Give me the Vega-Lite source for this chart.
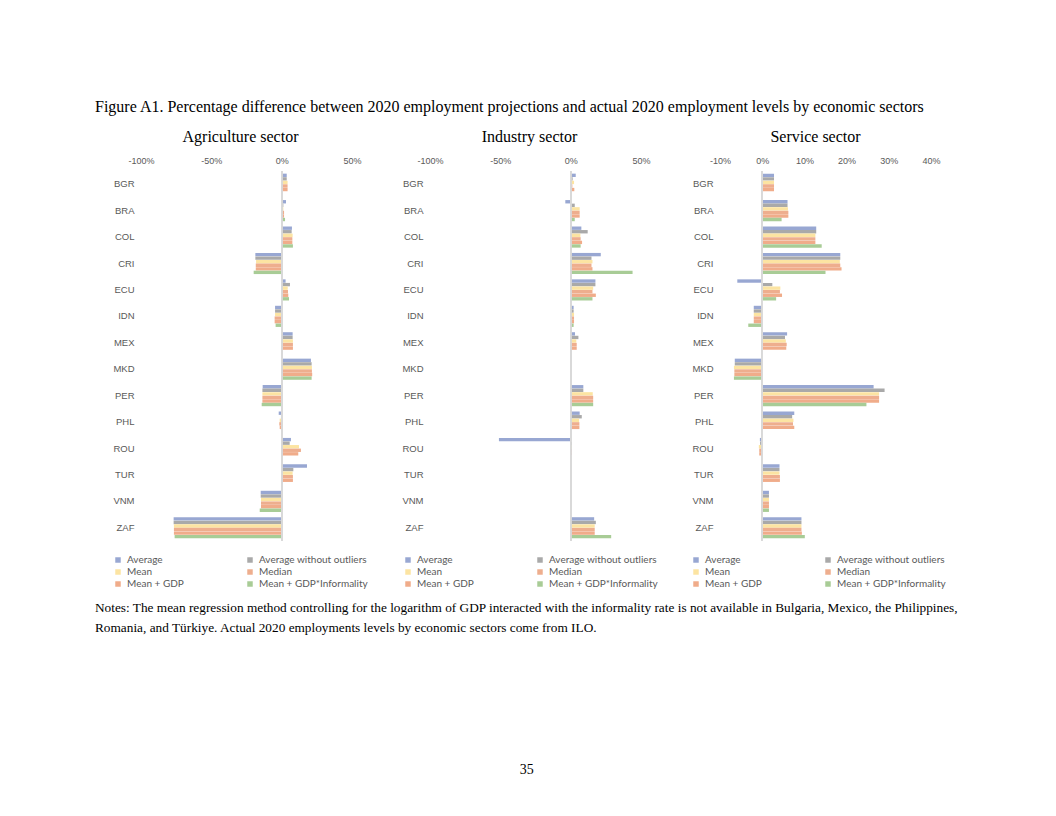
{
  "$schema": "https://vega.github.io/schema/vega-lite/v6.json",
  "background": "white",
  "padding": {"left": 95, "top": 99, "right": 0, "bottom": 0},
  "datasets": {
    "series": [
      {"k": "avg", "name": "Average"},
      {"k": "awo", "name": "Average without outliers"},
      {"k": "mean", "name": "Mean"},
      {"k": "median", "name": "Median"},
      {"k": "gdp", "name": "Mean + GDP"},
      {"k": "inf", "name": "Mean + GDP*Informality"}
    ],
    "d": [
      {"s": "A", "c": "BGR", "avg": 3.6, "awo": 3.6, "mean": 4.2, "median": 4.2, "gdp": 4.2, "inf": null},
      {"s": "A", "c": "BRA", "avg": 3.1, "awo": 1.2, "mean": 1.2, "median": 1.7, "gdp": 1.7, "inf": 2.4},
      {"s": "A", "c": "COL", "avg": 7.3, "awo": 7.1, "mean": 7.8, "median": 7.6, "gdp": 7.6, "inf": 8.0},
      {"s": "A", "c": "CRI", "avg": -18.7, "awo": -18.7, "mean": -18.2, "median": -18.4, "gdp": -18.4, "inf": -19.9},
      {"s": "A", "c": "ECU", "avg": 2.8, "awo": 5.9, "mean": 4.3, "median": 4.5, "gdp": 4.7, "inf": 5.2},
      {"s": "A", "c": "IDN", "avg": -4.7, "awo": -4.7, "mean": -4.7, "median": -5.0, "gdp": -5.0, "inf": -4.3},
      {"s": "A", "c": "MEX", "avg": 7.8, "awo": 7.8, "mean": 8.0, "median": 8.0, "gdp": 8.0, "inf": null},
      {"s": "A", "c": "MKD", "avg": 20.8, "awo": 21.3, "mean": 21.5, "median": 21.5, "gdp": 21.7, "inf": 21.3},
      {"s": "A", "c": "PER", "avg": -13.5, "awo": -13.7, "mean": -13.7, "median": -13.7, "gdp": -13.7, "inf": -14.2},
      {"s": "A", "c": "PHL", "avg": -2.1, "awo": -0.5, "mean": -1.4, "median": -1.7, "gdp": -1.4, "inf": null},
      {"s": "A", "c": "ROU", "avg": 6.6, "awo": 5.7, "mean": 12.3, "median": 13.7, "gdp": 11.8, "inf": null},
      {"s": "A", "c": "TUR", "avg": 18.0, "awo": 8.3, "mean": 7.8, "median": 8.0, "gdp": 8.0, "inf": null},
      {"s": "A", "c": "VNM", "avg": -14.9, "awo": -14.9, "mean": -14.7, "median": -14.7, "gdp": -14.7, "inf": -15.6},
      {"s": "A", "c": "ZAF", "avg": -76.8, "awo": -76.8, "mean": -76.6, "median": -76.6, "gdp": -76.6, "inf": -76.1},
      {"s": "I", "c": "BGR", "avg": 3.6, "awo": 1.4, "mean": 2.4, "median": 1.2, "gdp": 2.6, "inf": null},
      {"s": "I", "c": "BRA", "avg": -3.8, "awo": 2.9, "mean": 6.4, "median": 6.4, "gdp": 6.4, "inf": 2.9},
      {"s": "I", "c": "COL", "avg": 7.6, "awo": 12.1, "mean": 6.9, "median": 7.1, "gdp": 8.1, "inf": 7.1},
      {"s": "I", "c": "CRI", "avg": 21.4, "awo": 14.8, "mean": 15.5, "median": 14.8, "gdp": 15.5, "inf": 44.0},
      {"s": "I", "c": "ECU", "avg": 17.6, "awo": 17.6, "mean": 16.0, "median": 15.5, "gdp": 17.9, "inf": 15.5},
      {"s": "I", "c": "IDN", "avg": 2.1, "awo": 2.1, "mean": 2.4, "median": 2.4, "gdp": 2.4, "inf": 2.1},
      {"s": "I", "c": "MEX", "avg": 3.1, "awo": 5.5, "mean": 4.0, "median": 4.3, "gdp": 4.3, "inf": null},
      {"s": "I", "c": "MKD", "avg": 0.4, "awo": 0.4, "mean": 0.4, "median": 0.4, "gdp": 0.4, "inf": 0.4},
      {"s": "I", "c": "PER", "avg": 9.0, "awo": 9.0, "mean": 15.7, "median": 16.0, "gdp": 16.0, "inf": 16.0},
      {"s": "I", "c": "PHL", "avg": 6.4, "awo": 7.9, "mean": 6.0, "median": 6.2, "gdp": 6.2, "inf": null},
      {"s": "I", "c": "ROU", "avg": -51.0, "awo": 0.8, "mean": 0.7, "median": 0.7, "gdp": 0.7, "inf": null},
      {"s": "I", "c": "TUR", "avg": 0.3, "awo": 0.3, "mean": 0.3, "median": 0.3, "gdp": 0.3, "inf": null},
      {"s": "I", "c": "VNM", "avg": -0.4, "awo": -0.4, "mean": -0.4, "median": -0.4, "gdp": -0.4, "inf": -0.4},
      {"s": "I", "c": "ZAF", "avg": 16.7, "awo": 17.9, "mean": 17.1, "median": 17.1, "gdp": 17.1, "inf": 28.8},
      {"s": "S", "c": "BGR", "avg": 2.8, "awo": 2.8, "mean": 2.8, "median": 2.8, "gdp": 2.8, "inf": null},
      {"s": "S", "c": "BRA", "avg": 6.0, "awo": 6.0, "mean": 6.1, "median": 6.2, "gdp": 6.2, "inf": 4.6},
      {"s": "S", "c": "COL", "avg": 12.8, "awo": 12.8, "mean": 12.6, "median": 12.6, "gdp": 12.6, "inf": 14.1},
      {"s": "S", "c": "CRI", "avg": 18.5, "awo": 18.5, "mean": 18.4, "median": 18.5, "gdp": 18.8, "inf": 15.0},
      {"s": "S", "c": "ECU", "avg": -5.9, "awo": 2.4, "mean": 4.3, "median": 4.2, "gdp": 4.7, "inf": 3.3},
      {"s": "S", "c": "IDN", "avg": -2.0, "awo": -2.0, "mean": -2.0, "median": -2.0, "gdp": -2.0, "inf": -3.3},
      {"s": "S", "c": "MEX", "avg": 5.9, "awo": 5.4, "mean": 5.6, "median": 5.8, "gdp": 5.7, "inf": null},
      {"s": "S", "c": "MKD", "avg": -6.5, "awo": -6.5, "mean": -6.7, "median": -6.6, "gdp": -6.6, "inf": -6.7},
      {"s": "S", "c": "PER", "avg": 26.4, "awo": 29.0, "mean": 27.7, "median": 27.7, "gdp": 27.7, "inf": 24.7},
      {"s": "S", "c": "PHL", "avg": 7.6, "awo": 7.1, "mean": 7.4, "median": 7.3, "gdp": 7.6, "inf": null},
      {"s": "S", "c": "ROU", "avg": -0.55, "awo": -0.5, "mean": -0.8, "median": -0.7, "gdp": -0.7, "inf": null},
      {"s": "S", "c": "TUR", "avg": 4.1, "awo": 4.1, "mean": 4.1, "median": 4.2, "gdp": 4.2, "inf": null},
      {"s": "S", "c": "VNM", "avg": 1.6, "awo": 1.6, "mean": 1.6, "median": 1.6, "gdp": 1.6, "inf": 1.6},
      {"s": "S", "c": "ZAF", "avg": 9.3, "awo": 9.3, "mean": 9.3, "median": 9.3, "gdp": 9.4, "inf": 10.1}
    ]
  },
  "data": {"name": "d"},
  "title": {"text": "35", "orient": "bottom", "anchor": "middle", "offset": 129, "font": "Liberation Serif", "fontSize": 14, "fontWeight": "normal", "color": "#000"},
  "vconcat": [
    {
      "title": {"text": ["Notes: The mean regression method controlling for the logarithm of GDP interacted with the informality rate is not available in Bulgaria, Mexico, the Philippines,", "Romania, and Türkiye. Actual 2020 employments levels by economic sectors come from ILO."], "orient": "bottom", "anchor": "start", "offset": 12, "font": "Liberation Serif", "fontSize": 13.3, "fontWeight": "normal", "color": "#000", "lineHeight": 20},
      "vconcat": [
        {
          "title": {"text": "Figure A1. Percentage difference between 2020 employment projections and actual 2020 employment levels by economic sectors", "anchor": "start", "offset": 14, "font": "Liberation Serif", "fontSize": 16, "fontWeight": "normal", "color": "#000"},
          "spacing": 16,
          "resolve": {"scale": {"color": "independent"}, "legend": {"color": "independent"}},
          "hconcat": [
            {
              "width": 211, "height": 370,
              "title": {"text": "Agriculture sector", "frame": "group", "anchor": "middle", "offset": 11, "dx": -6},
              "transform": [
                {"filter": "datum.s == 'A'"},
                {"fold": ["avg", "awo", "mean", "median", "gdp", "inf"], "as": ["k", "v"]},
                {"filter": "isValid(datum.v)"},
                {"lookup": "k", "from": {"data": {"name": "series"}, "key": "k", "fields": ["name"]}}
              ],
              "layer": [
                {
                  "mark": {"type": "bar"},
                  "encoding": {
                    "y": {"field": "c", "type": "nominal", "sort": ["BGR","BRA","COL","CRI","ECU","IDN","MEX","MKD","PER","PHL","ROU","TUR","VNM","ZAF"], "scale": {"paddingInner": 0.2, "paddingOuter": 0.1}, "axis": {"labelPadding": 7, "minExtent": 46, "labelFontSize": 9.5}},
                    "yOffset": {"field": "name", "type": "nominal", "sort": ["Average","Average without outliers","Mean","Median","Mean + GDP","Mean + GDP*Informality"], "scale": {"paddingInner": 0.05}},
                    "x": {"field": "v", "type": "quantitative", "scale": {"domain": [-100, 50], "nice": false, "zero": false}, "axis": {"orient": "top", "values": [-100, -50, 0, 50], "labelExpr": "datum.value + '%'", "labelPadding": 6, "labelFlush": false}},
                    "color": {"field": "name", "type": "nominal", "scale": {"domain": ["Average","Mean","Mean + GDP","Average without outliers","Median","Mean + GDP*Informality"], "range": ["#98A7D2","#FCE4A2","#F0AC8A","#A9A9A9","#EEAE8E","#A8CC96"]}, "legend": {"orient": "none", "legendX": -28, "legendY": 384}}
                  }
                },
                {"mark": {"type": "rule", "color": "#D9D9D9", "strokeWidth": 1}, "encoding": {"x": {"datum": 0}}}
              ]
            },
            {
              "width": 211, "height": 370,
              "title": {"text": "Industry sector", "frame": "group", "anchor": "middle", "offset": 11, "dx": -6},
              "transform": [
                {"filter": "datum.s == 'I'"},
                {"fold": ["avg", "awo", "mean", "median", "gdp", "inf"], "as": ["k", "v"]},
                {"filter": "isValid(datum.v)"},
                {"lookup": "k", "from": {"data": {"name": "series"}, "key": "k", "fields": ["name"]}}
              ],
              "layer": [
                {
                  "mark": {"type": "bar"},
                  "encoding": {
                    "y": {"field": "c", "type": "nominal", "sort": ["BGR","BRA","COL","CRI","ECU","IDN","MEX","MKD","PER","PHL","ROU","TUR","VNM","ZAF"], "scale": {"paddingInner": 0.2, "paddingOuter": 0.1}, "axis": {"labelPadding": 7, "minExtent": 46, "labelFontSize": 9.5}},
                    "yOffset": {"field": "name", "type": "nominal", "sort": ["Average","Average without outliers","Mean","Median","Mean + GDP","Mean + GDP*Informality"], "scale": {"paddingInner": 0.05}},
                    "x": {"field": "v", "type": "quantitative", "scale": {"domain": [-100, 50], "nice": false, "zero": false}, "axis": {"orient": "top", "values": [-100, -50, 0, 50], "labelExpr": "datum.value + '%'", "labelPadding": 6, "labelFlush": false}},
                    "color": {"field": "name", "type": "nominal", "scale": {"domain": ["Average","Mean","Mean + GDP","Average without outliers","Median","Mean + GDP*Informality"], "range": ["#98A7D2","#FCE4A2","#F0AC8A","#A9A9A9","#EEAE8E","#A8CC96"]}, "legend": {"orient": "none", "legendX": -27, "legendY": 384}}
                  }
                },
                {"mark": {"type": "rule", "color": "#D9D9D9", "strokeWidth": 1}, "encoding": {"x": {"datum": 0}}}
              ]
            },
            {
              "width": 211, "height": 370,
              "title": {"text": "Service sector", "frame": "group", "anchor": "middle", "offset": 11, "dx": -10},
              "transform": [
                {"filter": "datum.s == 'S'"},
                {"fold": ["avg", "awo", "mean", "median", "gdp", "inf"], "as": ["k", "v"]},
                {"filter": "isValid(datum.v)"},
                {"lookup": "k", "from": {"data": {"name": "series"}, "key": "k", "fields": ["name"]}}
              ],
              "layer": [
                {
                  "mark": {"type": "bar"},
                  "encoding": {
                    "y": {"field": "c", "type": "nominal", "sort": ["BGR","BRA","COL","CRI","ECU","IDN","MEX","MKD","PER","PHL","ROU","TUR","VNM","ZAF"], "scale": {"paddingInner": 0.2, "paddingOuter": 0.1}, "axis": {"labelPadding": 7, "minExtent": 46, "labelFontSize": 9.5}},
                    "yOffset": {"field": "name", "type": "nominal", "sort": ["Average","Average without outliers","Mean","Median","Mean + GDP","Mean + GDP*Informality"], "scale": {"paddingInner": 0.05}},
                    "x": {"field": "v", "type": "quantitative", "scale": {"domain": [-10, 40], "nice": false, "zero": false}, "axis": {"orient": "top", "values": [-10, 0, 10, 20, 30, 40], "labelExpr": "datum.value + '%'", "labelPadding": 6, "labelFlush": false}},
                    "color": {"field": "name", "type": "nominal", "scale": {"domain": ["Average","Mean","Mean + GDP","Average without outliers","Median","Mean + GDP*Informality"], "range": ["#98A7D2","#FCE4A2","#F0AC8A","#A9A9A9","#EEAE8E","#A8CC96"]}, "legend": {"orient": "none", "legendX": -29, "legendY": 384}}
                  }
                },
                {"mark": {"type": "rule", "color": "#D9D9D9", "strokeWidth": 1}, "encoding": {"x": {"datum": 0}}}
              ]
            }
          ]
        }
      ]
    }
  ],
  "config": {
    "view": {"stroke": null},
    "axis": {"labelFont": "Liberation Sans", "labelColor": "#595959", "labelFontSize": 9, "ticks": false, "domain": false, "grid": false, "title": null},
    "title": {"font": "Liberation Serif", "fontSize": 16, "fontWeight": "normal", "color": "#000"},
    "legend": {"columns": 2, "columnPadding": 61, "symbolType": "square", "symbolSize": 30, "symbolStrokeWidth": 0, "labelFont": "Lato", "labelFontSize": 10, "labelColor": "#595959", "title": null, "rowPadding": 2, "labelOffset": 4}
  }
}
